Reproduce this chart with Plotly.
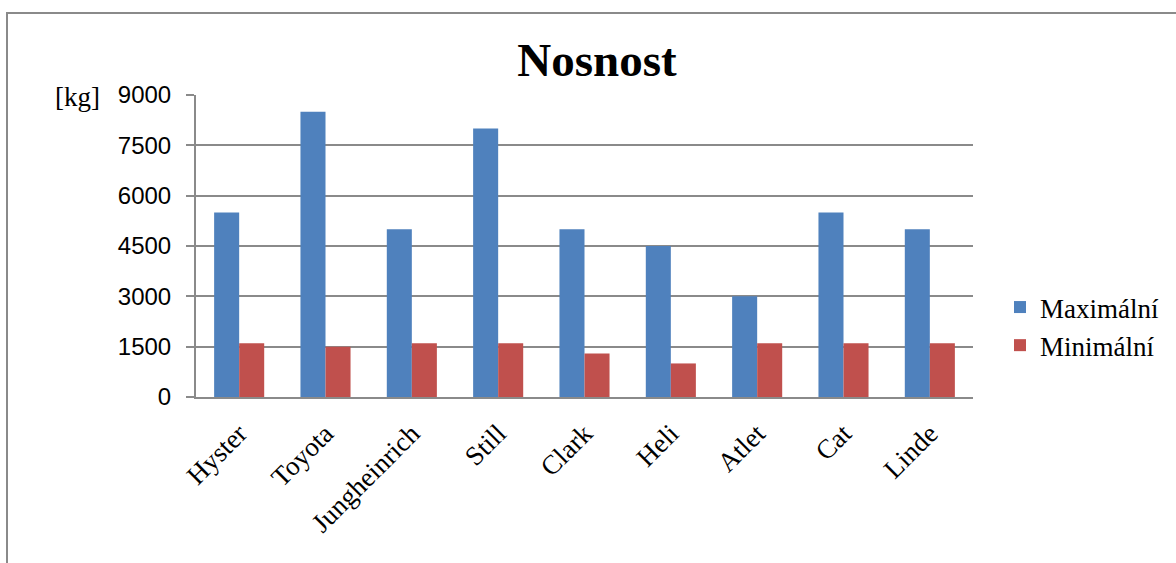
import plotly.graph_objects as go

categories = ["Hyster", "Toyota", "Jungheinrich", "Still", "Clark", "Heli", "Atlet", "Cat", "Linde"]
maximalni = [5500, 8500, 5000, 8000, 5000, 4500, 3000, 5500, 5000]
minimalni = [1600, 1500, 1600, 1600, 1300, 1000, 1600, 1600, 1600]
tick_vals = [0, 1500, 3000, 4500, 6000, 7500, 9000]

W, H = 1176, 563
L, R, T, B = 196, 973, 95, 397

fig = go.Figure()
fig.add_trace(go.Bar(x=categories, y=maximalni, name="Maximální", legendgroup="a",
                     marker=dict(color="#4F81BD", line=dict(width=0))))
fig.add_trace(go.Bar(x=categories, y=minimalni, name="Minimální", legendgroup="b",
                     marker=dict(color="#C0504D", line=dict(width=0))))

def px2x(px):
    return (px - L) / (R - L)

def py2y(py):
    return (B - py) / (B - T)

fig.update_layout(
    width=W, height=H,
    margin=dict(l=L, r=W - R, t=T, b=H - B, pad=0),
    paper_bgcolor="white", plot_bgcolor="white",
    barmode="group", bargap=0.42, bargroupgap=0,
    title=dict(text="<b>Nosnost</b>", x=597 / W, xanchor="center", y=1 - 60 / H, yanchor="middle",
               font=dict(family="Liberation Serif", size=47, color="black")),
    xaxis=dict(showline=True, linecolor="#8a8a8a", linewidth=2, ticks="", tickangle=-45,
               ticklabelstandoff=8,
               tickfont=dict(family="Liberation Serif", size=27, color="black"),
               showgrid=False),
    yaxis=dict(range=[0, 9000], tickvals=tick_vals, ticktext=[str(v) for v in tick_vals],
               showline=True, linecolor="#8a8a8a", linewidth=2,
               showgrid=True, gridcolor="#8a8a8a", gridwidth=2,
               ticks="outside", ticklen=8, tickcolor="#8a8a8a", tickwidth=2,
               ticklabelstandoff=10, zeroline=False,
               tickfont=dict(family="Liberation Sans", size=24, color="black")),
    legend=dict(x=px2x(1000), xanchor="left", y=py2y(283), yanchor="top",
                font=dict(family="Liberation Serif", size=27, color="black"),
                tracegroupgap=22, traceorder="normal", bgcolor="rgba(0,0,0,0)"),
    showlegend=True,
    shapes=[dict(type="rect", xref="paper", yref="paper",
                 x0=px2x(7), x1=px2x(1250), y0=py2y(620), y1=py2y(13),
                 line=dict(color="#8a8a8a", width=2), fillcolor="rgba(0,0,0,0)", layer="below")],
    annotations=[dict(text="[kg]", xref="paper", yref="paper", x=px2x(77), y=py2y(97),
                      xanchor="center", yanchor="middle", showarrow=False,
                      font=dict(family="Liberation Serif", size=27, color="black"))],
)

fig.write_html("out.html")
